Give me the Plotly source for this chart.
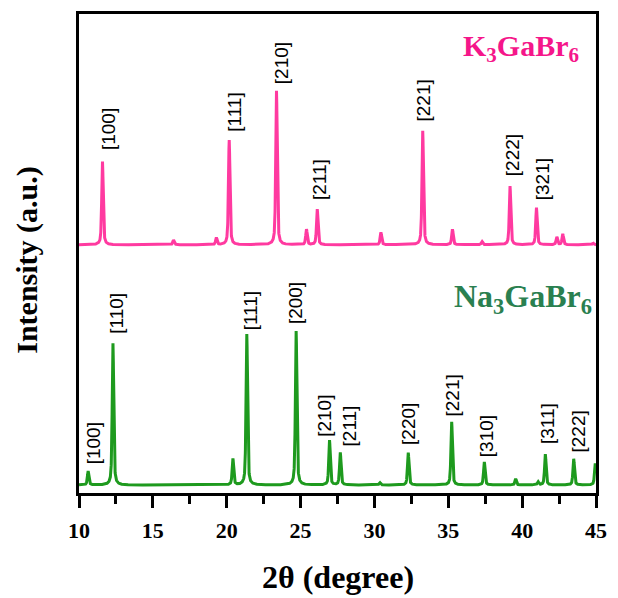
import numpy as np
import plotly.graph_objects as go

# Peak lists (2θ in degrees, relative intensity in %) and Miller-index labels
k_pos = [11.59, 16.40, 19.30, 20.17, 23.37, 25.40, 26.13, 30.44, 33.27, 35.28, 37.29, 39.18, 40.97, 42.35, 42.75, 44.80]
k_int = [54, 3, 4.5, 68, 100, 10, 23, 8, 74, 10, 2, 38, 24, 5, 7, 1]
k_hkl = ["[100]", "", "", "[111]", "[210]", "", "[211]", "", "[221]", "", "", "[222]", "[321]", "", "", ""]

na_pos = [10.62, 12.30, 20.42, 21.36, 24.70, 26.96, 27.69, 30.37, 32.29, 35.23, 37.44, 39.56, 41.08, 41.57, 43.49, 44.95]
na_int = [9, 92, 17, 98, 100, 29, 21, 1.5, 21, 41, 15, 4, 2, 20, 17, 14]
na_hkl = ["[100]", "[110]", "", "[111]", "[200]", "[210]", "[211]", "", "[220]", "[221]", "[310]", "", "", "[311]", "[222]", ""]

x_ticks = [10, 15, 20, 25, 30, 35, 40, 45]

# vertical offset of the K3GaBr6 pattern above the Na3GaBr6 pattern
k_offset = 156

# label nudges in pixels (x shift, gap above the peak top)
k_shift = {"[100]": (6, 10), "[111]": (5, 6), "[210]": (5, 5), "[211]": (3, 7),
           "[221]": (1, 7), "[222]": (2, 8), "[321]": (6, 6)}
na_shift = {"[100]": (5, 5), "[110]": (4, 8), "[111]": (4, 2), "[200]": (0, 5),
            "[210]": (-5, 1), "[211]": (9, 4), "[220]": (0, 6), "[221]": (1, 3),
            "[310]": (3, 3), "[311]": (2, 8), "[222]": (5, 4)}

PINK_LINE = "#FF3AA0"
PINK_TEXT = "#F5168A"
GREEN_LINE = "#1E9A1E"
GREEN_TEXT = "#2A8050"
SERIF = "Liberation Serif, Times New Roman"

two_theta = np.linspace(10, 45, 7001)


def pattern(pos, inten, fwhm=0.12, eta=0.55):
    """Sum of pseudo-Voigt peak profiles for a list of reflections."""
    y = np.zeros_like(two_theta)
    hw = fwhm / 2
    for p, h in zip(pos, inten):
        d = two_theta - p
        lor = 1 / (1 + (d / hw) ** 2)
        gau = np.exp(-np.log(2) * (d / hw) ** 2)
        y += h * (eta * lor + (1 - eta) * gau)
    return y


fig = go.Figure()
fig.add_trace(go.Scatter(x=two_theta, y=pattern(na_pos, na_int), mode="lines",
                         line=dict(color=GREEN_LINE, width=3), showlegend=False))
fig.add_trace(go.Scatter(x=two_theta, y=pattern(k_pos, k_int) + k_offset, mode="lines",
                         line=dict(color=PINK_LINE, width=3), showlegend=False))

ann = []
for pos, inten, hkl, shifts, base in [(k_pos, k_int, k_hkl, k_shift, k_offset),
                                      (na_pos, na_int, na_hkl, na_shift, 0)]:
    for p, h, lab in zip(pos, inten, hkl):
        if not lab:
            continue
        dx, gap = shifts[lab]
        ann.append(dict(x=p, y=base + h, xref="x", yref="y", text=lab, showarrow=False,
                        textangle=-90, xanchor="center", yanchor="bottom",
                        xshift=dx, yshift=gap,
                        font=dict(family="Liberation Sans, Arial", size=19, color="black")))

ann.append(dict(x=43.98, y=284, xref="x", yref="y", xanchor="right", yanchor="middle",
                text="<b>K<sub>3</sub>GaBr<sub>6</sub></b>", showarrow=False,
                font=dict(family=SERIF, size=30, color=PINK_TEXT)))
ann.append(dict(x=44.85, y=121, xref="x", yref="y", xanchor="right", yanchor="middle",
                text="<b>Na<sub>3</sub>GaBr<sub>6</sub></b>", showarrow=False,
                font=dict(family=SERIF, size=32, color=GREEN_TEXT)))

# axis titles
ann.append(dict(x=0.5, y=-0.176, xref="paper", yref="paper", xanchor="center", yanchor="middle",
                text="<b>2θ (degree)</b>", showarrow=False,
                font=dict(family=SERIF, size=32, color="black")))
ann.append(dict(x=-0.1, y=0.4876, xref="paper", yref="paper", xanchor="center", yanchor="middle",
                text="<b>Intensity (a.u.)</b>", showarrow=False, textangle=-90,
                font=dict(family=SERIF, size=30, color="black")))

fig.update_layout(
    width=618, height=598,
    margin=dict(l=79, r=16, t=11, b=105),
    plot_bgcolor="white", paper_bgcolor="white",
    annotations=ann,
    xaxis=dict(range=[10, 45], tickvals=x_ticks, ticktext=[str(v) for v in x_ticks],
               ticks="outside", ticklen=12, tickwidth=3, tickcolor="black",
               minor=dict(dtick=2.5, tick0=10, ticks="outside", ticklen=8, tickwidth=3, tickcolor="black"),
               showline=True, linewidth=3, linecolor="black", mirror=True,
               showgrid=False, zeroline=False, ticklabelstandoff=4,
               tickfont=dict(family=SERIF, size=22, color="black", weight="bold")),
    yaxis=dict(range=[-5.2, 305.8], showticklabels=False, ticks="",
               showline=True, linewidth=3, linecolor="black", mirror=True,
               showgrid=False, zeroline=False),
)

fig.write_html("out.html")
